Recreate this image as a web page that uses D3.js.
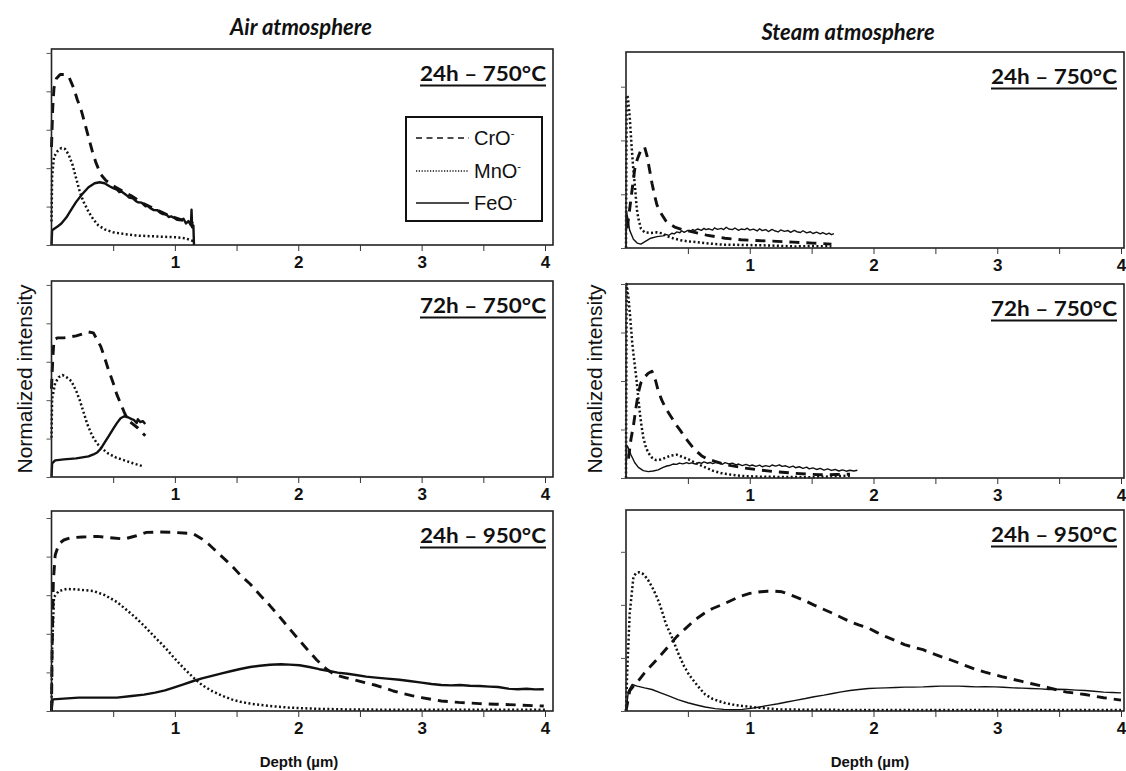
<!DOCTYPE html>
<html>
<head>
<meta charset="utf-8">
<script src="https://cdn.jsdelivr.net/npm/d3@7"></script>
<style>
  html, body { margin: 0; padding: 0; background: #fff; }
  svg { display: block; }
</style>
</head>
<body>
<div id="chart"></div>
<script>
// ---------------- DATA ----------------
const columnTitles = ["Air atmosphere", "Steam atmosphere"];
const panelTitles = ["24h – 750°C", "72h – 750°C", "24h – 950°C"];
const seriesNames = ["CrO", "MnO", "FeO"];
const xTickValues = [0.5, 1, 1.5, 2, 2.5, 3, 3.5, 4];
const xTickLabels = ["1", "2", "3", "4"];
const xLabel = "Depth (µm)";
const yLabel = "Normalized intensity";

// y tick positions (normalized intensity) for each panel
const yTicksAirA = [0, 0.196, 0.392, 0.588, 0.784, 0.98];
const yTicksAirB = [0, 0.196, 0.392, 0.588, 0.784, 0.98];
const yTicksAirC = [0, 0.193, 0.386, 0.579, 0.772, 0.965];
const yTicksSteamD = [0, 0.274, 0.549, 0.823];
const yTicksSteamE = [0, 0.25, 0.5, 0.75, 1.0];
const yTicksSteamF = [0, 0.264, 0.528, 0.792];

// Air, 24h – 750°C  [depth µm, normalized intensity]
const airA_Cr = [[0,0.5],[0.01,0.7],[0.02,0.8],[0.04,0.85],[0.07,0.87],[0.1,0.87],[0.14,0.86],[0.18,0.8],[0.21,0.74],[0.24,0.69],[0.27,0.62],[0.3,0.55],[0.33,0.48],[0.36,0.42],[0.4,0.36],[0.44,0.33],[0.48,0.31],[0.52,0.295],[0.56,0.28],[0.6,0.265],[0.65,0.25],[0.7,0.23],[0.75,0.21],[0.8,0.195],[0.85,0.18],[0.9,0.165],[0.95,0.15],[1.0,0.14],[1.05,0.13],[1.1,0.12],[1.15,0.11]];
const airA_Mn = [[0,0.12],[0.005,0.35],[0.02,0.45],[0.05,0.48],[0.08,0.495],[0.11,0.49],[0.14,0.46],[0.17,0.41],[0.2,0.34],[0.23,0.27],[0.26,0.22],[0.3,0.17],[0.34,0.13],[0.38,0.1],[0.43,0.08],[0.5,0.065],[0.6,0.055],[0.7,0.048],[0.8,0.045],[0.9,0.042],[1.0,0.04],[1.08,0.035],[1.15,0.02]];
const airA_Fe = [[0,0.0],[0.005,0.075],[0.04,0.09],[0.08,0.11],[0.12,0.14],[0.16,0.18],[0.2,0.22],[0.25,0.26],[0.3,0.295],[0.35,0.315],[0.39,0.32],[0.43,0.315],[0.47,0.3],[0.5,0.29],[0.53,0.282],[0.55,0.27],[0.57,0.272],[0.6,0.258],[0.63,0.242],[0.66,0.238],[0.68,0.226],[0.7,0.218],[0.73,0.216],[0.76,0.198],[0.78,0.2],[0.8,0.188],[0.83,0.178],[0.86,0.177],[0.88,0.165],[0.9,0.158],[0.93,0.157],[0.95,0.143],[0.97,0.146],[0.99,0.14],[1.02,0.128],[1.05,0.126],[1.07,0.134],[1.09,0.11],[1.11,0.122],[1.13,0.1],[1.135,0.18],[1.14,0.09],[1.15,0.1],[1.155,0.0]];

// Air, 72h – 750°C
const airB_Cr = [[0,0.45],[0.01,0.6],[0.02,0.7],[0.05,0.71],[0.1,0.71],[0.15,0.715],[0.2,0.72],[0.25,0.73],[0.3,0.74],[0.34,0.735],[0.37,0.7],[0.4,0.665],[0.43,0.61],[0.46,0.55],[0.5,0.48],[0.53,0.42],[0.56,0.375],[0.59,0.33],[0.62,0.29],[0.66,0.27],[0.7,0.25],[0.73,0.23],[0.76,0.21]];
const airB_Mn = [[0,0.2],[0.005,0.4],[0.03,0.48],[0.06,0.51],[0.09,0.52],[0.12,0.51],[0.16,0.49],[0.2,0.44],[0.23,0.39],[0.26,0.33],[0.29,0.27],[0.33,0.21],[0.37,0.17],[0.42,0.14],[0.46,0.12],[0.52,0.1],[0.59,0.085],[0.66,0.07],[0.74,0.055]];
const airB_Fe = [[0,0],[0.005,0.07],[0.03,0.085],[0.1,0.09],[0.2,0.095],[0.3,0.105],[0.34,0.115],[0.37,0.125],[0.4,0.145],[0.43,0.175],[0.46,0.205],[0.5,0.245],[0.53,0.275],[0.56,0.3],[0.59,0.31],[0.62,0.305],[0.65,0.295],[0.67,0.29],[0.69,0.275],[0.7,0.295],[0.72,0.28],[0.74,0.285],[0.76,0.27]];

// Air, 24h – 950°C
const airC_Cr = [[0,0.0],[0.005,0.3],[0.015,0.65],[0.03,0.78],[0.06,0.836],[0.1,0.855],[0.155,0.866],[0.25,0.87],[0.37,0.873],[0.5,0.865],[0.59,0.86],[0.68,0.875],[0.77,0.893],[0.88,0.895],[0.99,0.893],[1.07,0.89],[1.15,0.886],[1.22,0.86],[1.27,0.836],[1.35,0.79],[1.46,0.727],[1.53,0.68],[1.61,0.635],[1.69,0.58],[1.77,0.527],[1.85,0.47],[1.92,0.418],[2.0,0.36],[2.07,0.31],[2.15,0.255],[2.23,0.209],[2.3,0.18],[2.38,0.167],[2.46,0.155],[2.54,0.142],[2.62,0.13],[2.69,0.117],[2.77,0.1],[2.85,0.087],[2.92,0.077],[3.0,0.067],[3.08,0.058],[3.16,0.05],[3.3,0.043],[3.47,0.037],[3.6,0.034],[3.78,0.03],[3.9,0.027],[3.99,0.025]];
const airC_Mn = [[0,0],[0.005,0.3],[0.02,0.57],[0.06,0.6],[0.124,0.61],[0.2,0.608],[0.34,0.6],[0.43,0.58],[0.53,0.545],[0.6,0.51],[0.68,0.468],[0.76,0.42],[0.84,0.368],[0.92,0.318],[0.99,0.268],[1.07,0.215],[1.15,0.167],[1.22,0.13],[1.3,0.1],[1.38,0.077],[1.46,0.058],[1.53,0.046],[1.61,0.037],[1.75,0.026],[1.92,0.017],[2.15,0.011],[2.38,0.008],[2.8,0.006],[3.2,0.006],[3.6,0.006],[4.0,0.006]];
const airC_Fe = [[0,0],[0.01,0.058],[0.1,0.062],[0.22,0.067],[0.35,0.067],[0.53,0.067],[0.65,0.075],[0.75,0.082],[0.84,0.092],[0.92,0.103],[0.99,0.117],[1.07,0.133],[1.15,0.15],[1.22,0.163],[1.3,0.176],[1.38,0.188],[1.46,0.2],[1.53,0.21],[1.61,0.22],[1.69,0.226],[1.77,0.231],[1.86,0.234],[1.93,0.232],[2.01,0.229],[2.09,0.22],[2.17,0.209],[2.25,0.2],[2.32,0.192],[2.4,0.186],[2.48,0.179],[2.55,0.172],[2.63,0.167],[2.72,0.162],[2.82,0.156],[2.9,0.15],[3.0,0.142],[3.08,0.135],[3.16,0.13],[3.24,0.128],[3.31,0.13],[3.39,0.126],[3.47,0.125],[3.55,0.122],[3.62,0.12],[3.7,0.112],[3.78,0.109],[3.85,0.111],[3.92,0.108],[3.99,0.109]];

// Steam, 24h – 750°C
const steamD_Cr = [[0.01,0.1],[0.03,0.2],[0.05,0.3],[0.07,0.4],[0.09,0.45],[0.12,0.5],[0.15,0.515],[0.17,0.47],[0.19,0.4],[0.21,0.33],[0.23,0.27],[0.25,0.22],[0.28,0.18],[0.32,0.14],[0.36,0.12],[0.4,0.105],[0.45,0.095],[0.5,0.088],[0.58,0.076],[0.65,0.066],[0.72,0.058],[0.8,0.05],[0.93,0.042],[1.05,0.038],[1.22,0.034],[1.35,0.03],[1.51,0.025],[1.66,0.02]];
const steamD_Mn = [[0,0.0],[0.005,0.78],[0.015,0.77],[0.03,0.67],[0.044,0.53],[0.058,0.41],[0.073,0.31],[0.087,0.2],[0.1,0.15],[0.12,0.1],[0.15,0.08],[0.2,0.077],[0.25,0.08],[0.29,0.075],[0.33,0.06],[0.38,0.05],[0.44,0.04],[0.5,0.034],[0.57,0.03],[0.64,0.025],[0.72,0.02],[0.79,0.017],[0.9,0.016],[1.08,0.014],[1.2,0.012],[1.37,0.008],[1.5,0.01],[1.66,0.008]];
const steamD_Fe = [[0,0],[0.003,0.19],[0.015,0.15],[0.03,0.09],[0.06,0.045],[0.09,0.025],[0.12,0.02],[0.16,0.035],[0.2,0.05],[0.25,0.058],[0.3,0.062],[0.32,0.07],[0.345,0.064],[0.37,0.075],[0.39,0.072],[0.41,0.082],[0.435,0.078],[0.45,0.088],[0.47,0.08],[0.5,0.09],[0.52,0.085],[0.54,0.094],[0.555,0.089],[0.58,0.097],[0.61,0.09],[0.63,0.1],[0.645,0.094],[0.67,0.098],[0.7,0.091],[0.715,0.103],[0.74,0.095],[0.77,0.1],[0.79,0.094],[0.81,0.106],[0.83,0.097],[0.86,0.094],[0.88,0.102],[0.91,0.09],[0.93,0.097],[0.96,0.094],[0.98,0.101],[1.0,0.091],[1.03,0.096],[1.06,0.087],[1.08,0.098],[1.1,0.089],[1.13,0.094],[1.15,0.084],[1.18,0.095],[1.2,0.088],[1.23,0.082],[1.25,0.092],[1.28,0.085],[1.31,0.089],[1.33,0.08],[1.36,0.09],[1.38,0.083],[1.41,0.079],[1.43,0.088],[1.46,0.077],[1.49,0.083],[1.51,0.074],[1.54,0.081],[1.57,0.072],[1.59,0.079],[1.62,0.07],[1.64,0.076],[1.66,0.068],[1.68,0.073]];

// Steam, 72h – 750°C
const steamE_Cr = [[0.02,0.1],[0.04,0.2],[0.06,0.27],[0.08,0.36],[0.1,0.44],[0.12,0.49],[0.15,0.52],[0.18,0.54],[0.21,0.55],[0.24,0.5],[0.26,0.45],[0.29,0.4],[0.32,0.36],[0.35,0.33],[0.38,0.3],[0.41,0.27],[0.44,0.244],[0.47,0.215],[0.5,0.19],[0.55,0.15],[0.61,0.115],[0.65,0.1],[0.7,0.09],[0.77,0.075],[0.85,0.064],[0.95,0.052],[1.08,0.041],[1.2,0.033],[1.37,0.024],[1.47,0.02],[1.57,0.017],[1.7,0.018],[1.81,0.02]];
const steamE_Mn = [[0,0],[0.005,1.0],[0.02,0.93],[0.035,0.82],[0.05,0.7],[0.06,0.64],[0.075,0.56],[0.086,0.5],[0.1,0.41],[0.113,0.33],[0.125,0.27],[0.14,0.21],[0.16,0.16],[0.18,0.13],[0.21,0.105],[0.24,0.093],[0.28,0.095],[0.32,0.105],[0.36,0.115],[0.41,0.12],[0.45,0.11],[0.5,0.098],[0.54,0.085],[0.58,0.072],[0.64,0.055],[0.7,0.038],[0.77,0.025],[0.85,0.017],[0.95,0.01],[1.08,0.007],[1.3,0.005],[1.52,0.004],[1.65,0.008],[1.81,0.012]];
const steamE_Fe = [[0,0],[0.005,0.17],[0.015,0.16],[0.04,0.12],[0.07,0.08],[0.1,0.055],[0.14,0.038],[0.18,0.033],[0.22,0.036],[0.26,0.042],[0.3,0.055],[0.33,0.062],[0.36,0.066],[0.38,0.072],[0.41,0.07],[0.43,0.077],[0.46,0.073],[0.49,0.079],[0.51,0.074],[0.53,0.078],[0.56,0.072],[0.59,0.08],[0.61,0.075],[0.63,0.083],[0.66,0.076],[0.68,0.08],[0.7,0.074],[0.73,0.081],[0.76,0.076],[0.78,0.071],[0.8,0.079],[0.83,0.073],[0.86,0.077],[0.89,0.068],[0.91,0.072],[0.94,0.064],[0.97,0.07],[1.0,0.062],[1.02,0.067],[1.05,0.06],[1.08,0.066],[1.1,0.058],[1.13,0.064],[1.16,0.059],[1.18,0.067],[1.21,0.061],[1.24,0.068],[1.26,0.06],[1.29,0.063],[1.32,0.055],[1.35,0.061],[1.37,0.053],[1.4,0.058],[1.43,0.05],[1.46,0.056],[1.48,0.047],[1.51,0.052],[1.54,0.044],[1.57,0.05],[1.6,0.041],[1.63,0.047],[1.66,0.039],[1.69,0.044],[1.72,0.036],[1.75,0.042],[1.78,0.035],[1.81,0.04],[1.84,0.036],[1.87,0.04]];

// Steam, 24h – 950°C
const steamF_Cr = [[0.0,0.0],[0.03,0.1],[0.06,0.124],[0.1,0.15],[0.15,0.19],[0.21,0.23],[0.27,0.27],[0.34,0.32],[0.41,0.37],[0.48,0.41],[0.56,0.455],[0.63,0.485],[0.7,0.51],[0.78,0.53],[0.85,0.55],[0.92,0.57],[1.0,0.585],[1.07,0.592],[1.14,0.596],[1.2,0.596],[1.26,0.593],[1.32,0.58],[1.37,0.568],[1.45,0.548],[1.52,0.527],[1.6,0.505],[1.67,0.486],[1.74,0.465],[1.81,0.445],[1.88,0.428],[1.96,0.412],[2.03,0.39],[2.1,0.37],[2.18,0.35],[2.25,0.33],[2.32,0.318],[2.4,0.305],[2.47,0.288],[2.54,0.272],[2.62,0.255],[2.69,0.239],[2.76,0.222],[2.83,0.206],[2.9,0.193],[2.98,0.181],[3.05,0.169],[3.13,0.157],[3.2,0.147],[3.27,0.137],[3.35,0.126],[3.42,0.115],[3.49,0.104],[3.56,0.094],[3.64,0.088],[3.71,0.082],[3.78,0.074],[3.86,0.066],[3.93,0.06],[4.0,0.054]];
const steamF_Mn = [[0,0],[0.01,0.2],[0.03,0.486],[0.06,0.667],[0.08,0.685],[0.105,0.69],[0.13,0.685],[0.15,0.675],[0.18,0.65],[0.21,0.618],[0.24,0.58],[0.27,0.535],[0.3,0.48],[0.32,0.437],[0.35,0.395],[0.38,0.354],[0.42,0.29],[0.47,0.222],[0.51,0.18],[0.56,0.14],[0.6,0.11],[0.64,0.082],[0.7,0.06],[0.79,0.041],[0.86,0.032],[0.94,0.025],[1.08,0.016],[1.23,0.008],[1.5,0.006],[2.0,0.005],[2.5,0.005],[3.0,0.005],[3.5,0.005],[4.0,0.005]];
const steamF_Fe = [[0,0],[0.02,0.1],[0.05,0.132],[0.09,0.124],[0.15,0.115],[0.21,0.107],[0.28,0.09],[0.35,0.074],[0.42,0.057],[0.5,0.041],[0.57,0.03],[0.64,0.02],[0.72,0.012],[0.79,0.008],[0.86,0.007],[0.94,0.008],[1.01,0.013],[1.08,0.02],[1.15,0.028],[1.23,0.036],[1.3,0.045],[1.37,0.053],[1.45,0.062],[1.52,0.071],[1.6,0.079],[1.67,0.087],[1.74,0.095],[1.81,0.102],[1.88,0.107],[1.96,0.112],[2.03,0.114],[2.1,0.115],[2.18,0.117],[2.25,0.119],[2.32,0.119],[2.4,0.12],[2.47,0.122],[2.54,0.124],[2.62,0.124],[2.69,0.124],[2.76,0.122],[2.83,0.12],[2.9,0.121],[2.98,0.12],[3.05,0.118],[3.13,0.115],[3.2,0.114],[3.27,0.112],[3.35,0.11],[3.42,0.107],[3.49,0.108],[3.56,0.107],[3.64,0.104],[3.71,0.102],[3.78,0.098],[3.86,0.094],[3.93,0.092],[4.0,0.09]];

// ---------------- LAYOUT ----------------
const W = 1126, H = 771;
const colLayout = [
  { left: 51.5, x4: 545, right: 553, feWidth: 2.4 },
  { left: 626, x4: 1121, right: 1124, feWidth: 1.4 }
];
const rowLayout = [
  [{ top: 49, bottom: 245 }, { top: 52, bottom: 248 }],
  [{ top: 281, bottom: 477 }, { top: 284, bottom: 478 }],
  [{ top: 511, bottom: 711 }, { top: 510, bottom: 711 }]
];

const panels = [
  { col: 0, row: 0, title: panelTitles[0], yTicks: yTicksAirA, series: [airA_Cr, airA_Mn, airA_Fe], legend: true },
  { col: 0, row: 1, title: panelTitles[1], yTicks: yTicksAirB, series: [airB_Cr, airB_Mn, airB_Fe] },
  { col: 0, row: 2, title: panelTitles[2], yTicks: yTicksAirC, series: [airC_Cr, airC_Mn, airC_Fe] },
  { col: 1, row: 0, title: panelTitles[0], yTicks: yTicksSteamD, series: [steamD_Cr, steamD_Mn, steamD_Fe] },
  { col: 1, row: 1, title: panelTitles[1], yTicks: yTicksSteamE, series: [steamE_Cr, steamE_Mn, steamE_Fe] },
  { col: 1, row: 2, title: panelTitles[2], yTicks: yTicksSteamF, series: [steamF_Cr, steamF_Mn, steamF_Fe] }
];

const INK = "#111";
const styles = [
  { dash: "10,7", width: 2.9 },
  { dash: "2,2.4", width: 2.5 },
  { dash: null, width: null }
];

const svg = d3.select("#chart").append("svg")
  .attr("width", W).attr("height", H)
  .attr("viewBox", `0 0 ${W} ${H}`);
svg.append("rect").attr("width", W).attr("height", H).attr("fill", "#fff");

// column titles
const titlePos = [{ x: 301, y: 35 }, { x: 848, y: 40 }];
columnTitles.forEach((t, i) => {
  svg.append("text")
    .attr("x", titlePos[i].x).attr("y", titlePos[i].y)
    .attr("text-anchor", "middle")
    .attr("font-family", "Lato, 'Open Sans', sans-serif")
    .attr("font-weight", "bold").attr("font-style", "italic")
    .attr("font-size", 22).attr("fill", INK)
    .text(t);
});

panels.forEach(p => {
  const c = colLayout[p.col];
  const r = rowLayout[p.row][p.col];
  const x = d3.scaleLinear().domain([0, 4]).range([c.left, c.x4]);
  const y = d3.scaleLinear().domain([0, 1]).range([r.bottom, r.top]);
  const g = svg.append("g");

  // lines
  p.series.forEach((data, si) => {
    const st = styles[si];
    const line = d3.line().x(d => x(d[0])).y(d => y(d[1]));
    const path = g.append("path").datum(data)
      .attr("d", line)
      .attr("fill", "none")
      .attr("stroke", INK)
      .attr("stroke-linejoin", "round")
      .attr("stroke-width", st.width === null ? c.feWidth : st.width);
    if (st.dash) path.attr("stroke-dasharray", st.dash);
  });

  // frame
  g.append("rect")
    .attr("x", c.left).attr("y", r.top)
    .attr("width", c.right - c.left).attr("height", r.bottom - r.top)
    .attr("fill", "none").attr("stroke", "#222").attr("stroke-width", 1.6);

  // x axis ticks and labels
  const xAxis = d3.axisBottom(x)
    .tickValues(xTickValues)
    .tickSize(6)
    .tickFormat(d => (Number.isInteger(d) ? xTickLabels[d - 1] : ""));
  const ax = g.append("g").attr("transform", `translate(0,${r.bottom})`).call(xAxis);
  ax.select(".domain").remove();
  ax.selectAll(".tick line").attr("stroke", "#333").attr("stroke-width", 1);
  ax.selectAll(".tick text")
    .attr("y", 11)
    .attr("font-family", "Arial, 'Liberation Sans', sans-serif")
    .attr("font-weight", "bold").attr("font-size", 17).attr("fill", INK);

  // y axis ticks (no labels)
  const yAxis = d3.axisLeft(y).tickValues(p.yTicks).tickSize(5).tickFormat("");
  const ay = g.append("g").attr("transform", `translate(${c.left},0)`).call(yAxis);
  ay.select(".domain").remove();
  ay.selectAll(".tick line").attr("stroke", "#555").attr("stroke-width", 1);

  // panel label (underlined)
  const tx = c.right - 7;
  const ty = r.top + 32;
  g.append("text")
    .attr("x", tx).attr("y", ty)
    .attr("text-anchor", "end")
    .attr("font-family", "Lato, 'Open Sans', sans-serif")
    .attr("font-weight", "bold").attr("font-size", 21).attr("fill", INK)
    .attr("textLength", 126).attr("lengthAdjust", "spacingAndGlyphs")
    .text(p.title);
  g.append("line")
    .attr("x1", tx - 126).attr("x2", tx)
    .attr("y1", ty + 4.5).attr("y2", ty + 4.5)
    .attr("stroke", INK).attr("stroke-width", 2.2);

  // legend
  if (p.legend) {
    const lg = g.append("g");
    lg.append("rect").attr("x", 406).attr("y", 117).attr("width", 136).attr("height", 104)
      .attr("fill", "#fff").attr("stroke", INK).attr("stroke-width", 2);
    const rowsY = [138, 171, 203];
    seriesNames.forEach((name, si) => {
      const ln = lg.append("line")
        .attr("x1", 416).attr("x2", 469)
        .attr("y1", rowsY[si]).attr("y2", rowsY[si])
        .attr("stroke", INK)
        .attr("stroke-width", 1.6);
      if (si === 0) ln.attr("stroke-dasharray", "6,4.5");
      if (si === 1) ln.attr("stroke-dasharray", "1.2,1.6");
      const t = lg.append("text")
        .attr("x", 474).attr("y", rowsY[si] + 7)
        .attr("font-family", "Arial, 'Liberation Sans', sans-serif")
        .attr("font-size", 20).attr("fill", INK);
      t.append("tspan").text(name);
      t.append("tspan").attr("dy", -8).attr("font-size", 11).text("-");
    });
  }
});

// axis titles
const yLabelPos = [{ x: 25, y: 379 }, { x: 595, y: 379 }];
yLabelPos.forEach(pos => {
  svg.append("text")
    .attr("transform", `translate(${pos.x},${pos.y}) rotate(-90)`)
    .attr("text-anchor", "middle").attr("dy", "0.35em")
    .attr("font-family", "Arial, 'Liberation Sans', sans-serif")
    .attr("font-size", 21).attr("fill", INK)
    .text(yLabel);
});
const xLabelPos = [{ x: 299, y: 767 }, { x: 870, y: 767 }];
xLabelPos.forEach(pos => {
  svg.append("text")
    .attr("x", pos.x).attr("y", pos.y)
    .attr("text-anchor", "middle")
    .attr("font-family", "Arial, 'Liberation Sans', sans-serif")
    .attr("font-weight", "bold").attr("font-size", 15).attr("fill", INK)
    .text(xLabel);
});
</script>
</body>
</html>
